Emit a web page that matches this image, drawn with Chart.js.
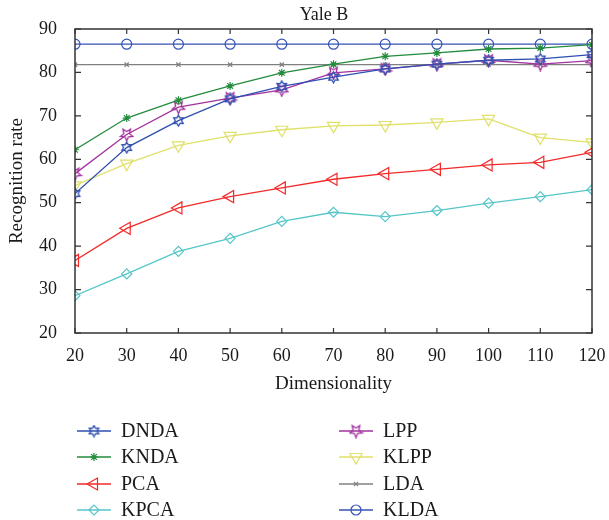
<!DOCTYPE html>
<html>
<head>
<meta charset="utf-8">
<script src="https://cdn.jsdelivr.net/npm/chart.js@4.4.1/dist/chart.umd.min.js"></script>
<style>
  html, body { margin: 0; padding: 0; background: #fff; }
  #wrap { width: 609px; height: 520px; }
</style>
</head>
<body>
<div id="wrap"><canvas id="myChart" width="609" height="520"></canvas></div>
<script>
// data
const dims = [20, 30, 40, 50, 60, 70, 80, 90, 100, 110, 120];
const yTicks = [20, 30, 40, 50, 60, 70, 80, 90];

const dnda = [52.1, 62.7, 68.9, 73.9, 76.8, 78.9, 80.8, 81.9, 82.8, 83.1, 84.1];
const knda = [62.2, 69.5, 73.6, 76.9, 79.9, 81.9, 83.7, 84.5, 85.4, 85.6, 86.4];
const pca  = [36.7, 44.1, 48.8, 51.4, 53.4, 55.4, 56.7, 57.7, 58.7, 59.3, 61.6];
const kpca = [28.6, 33.6, 38.8, 41.8, 45.7, 47.8, 46.8, 48.2, 49.9, 51.4, 53.0];
const lpp  = [56.7, 65.7, 72.0, 74.1, 76.0, 79.9, 80.8, 81.9, 82.8, 81.9, 82.7];
const klpp = [54.0, 59.0, 63.2, 65.4, 66.8, 67.7, 67.9, 68.5, 69.3, 65.0, 63.9];
const lda  = [81.8, 81.8, 81.8, 81.8, 81.8, 81.8, 81.8, 81.8, 81.8, 81.8, 81.8];
const klda = [86.5, 86.5, 86.5, 86.5, 86.5, 86.5, 86.5, 86.5, 86.5, 86.5, 86.5];

const FONT = "'Liberation Serif', 'DejaVu Serif', serif";

// hollow star markers drawn on small canvases
function starMarker(n, color, size, flip) {
  const c = document.createElement('canvas');
  c.width = size; c.height = size;
  const g = c.getContext('2d');
  g.strokeStyle = color;
  g.lineWidth = 1.3;
  const cx = size / 2, cy = size / 2, R = size / 2 - 1, r = R * (n === 6 ? 0.58 : 0.45);
  g.beginPath();
  for (let i = 0; i < n * 2; i++) {
    const a = -Math.PI / 2 + (flip ? Math.PI : 0) + i * Math.PI / n;
    const rr = i % 2 === 0 ? R : r;
    const px = cx + rr * Math.cos(a), py = cy + rr * Math.sin(a);
    if (i === 0) g.moveTo(px, py); else g.lineTo(px, py);
  }
  g.closePath();
  g.stroke();
  return c;
}

function pts(arr) { return dims.map((d, i) => ({ x: d, y: arr[i] })); }

const series = [
  { label: 'DNDA', data: dnda, color: '#2f4fb0', style: starMarker(6, '#2f4fb0', 13, false), r: 6, rot: 0 },
  { label: 'KNDA', data: knda, color: '#228b3c', style: 'star', r: 4, rot: 0 },
  { label: 'PCA',  data: pca,  color: '#f22a2a', style: 'triangle', r: 7, rot: -90 },
  { label: 'KPCA', data: kpca, color: '#55c6c8', style: 'rectRot', r: 5, rot: 0 },
  { label: 'LPP',  data: lpp,  color: '#a2329e', style: starMarker(5, '#a2329e', 15, true), r: 7, rot: 0 },
  { label: 'KLPP', data: klpp, color: '#e0e06a', style: 'triangle', r: 7, rot: 180 },
  { label: 'LDA',  data: lda,  color: '#808080', style: 'crossRot', r: 3, rot: 0 },
  { label: 'KLDA', data: klda, color: '#3553b4', style: 'circle', r: 5, rot: 0 }
];

const datasets = series.map(s => ({
  label: s.label,
  data: pts(s.data),
  borderColor: s.color,
  backgroundColor: 'rgba(0,0,0,0)',
  borderWidth: 1.3,
  pointStyle: s.style,
  pointRadius: s.r,
  pointRotation: s.rot,
  pointBorderColor: s.color,
  pointBorderWidth: 1.2,
  pointBackgroundColor: 'rgba(0,0,0,0)',
  fill: false,
  tension: 0
}));

// frame with inward ticks on all four sides, plus the title
const frame = {
  id: 'frame',
  afterDraw(chart) {
    const g = chart.ctx, a = chart.chartArea;
    const xs = chart.scales.x, ys = chart.scales.y;
    g.save();
    g.strokeStyle = '#333';
    g.lineWidth = 1.5;
    g.strokeRect(a.left, a.top, a.right - a.left, a.bottom - a.top);
    g.lineWidth = 1.2;
    g.beginPath();
    dims.forEach(d => {
      const px = xs.getPixelForValue(d);
      g.moveTo(px, a.bottom); g.lineTo(px, a.bottom - 5);
      g.moveTo(px, a.top); g.lineTo(px, a.top + 5);
    });
    yTicks.forEach(v => {
      const py = ys.getPixelForValue(v);
      g.moveTo(a.left, py); g.lineTo(a.left + 6, py);
      g.moveTo(a.right, py); g.lineTo(a.right - 6, py);
    });
    g.stroke();
    g.fillStyle = '#1a1a1a';
    g.font = '18px ' + FONT;
    g.textAlign = 'center';
    g.textBaseline = 'middle';
    g.fillText('Yale B', 324, 15);
    g.restore();
  }
};

// two-column legend under the axes
const legendBox = {
  id: 'legendBox',
  afterDraw(chart) {
    const g = chart.ctx;
    const cols = [77, 339];
    const rows = [431, 457, 484, 510];
    g.save();
    chart.data.datasets.forEach((ds, i) => {
      const x0 = cols[Math.floor(i / 4)], y = rows[i % 4];
      g.strokeStyle = ds.borderColor;
      g.lineWidth = 1.3;
      g.beginPath();
      g.moveTo(x0, y); g.lineTo(x0 + 34, y);
      g.stroke();
      g.lineWidth = ds.pointBorderWidth;
      g.fillStyle = 'rgba(0,0,0,0)';
      Chart.helpers.drawPoint(g, {
        pointStyle: ds.pointStyle,
        rotation: ds.pointRotation,
        radius: ds.pointRadius,
        borderWidth: ds.pointBorderWidth
      }, x0 + 17, y);
      g.fillStyle = '#1a1a1a';
      g.font = '20px ' + FONT;
      g.textAlign = 'left';
      g.textBaseline = 'middle';
      g.fillText(ds.label, x0 + 44, y + 1);
    });
    g.restore();
  }
};

new Chart('myChart', {
  type: 'line',
  data: { datasets: datasets },
  plugins: [frame, legendBox],
  options: {
    responsive: false,
    animation: false,
    layout: { padding: { left: 0, right: 17, top: 29, bottom: 125 } },
    plugins: {
      legend: { display: false },
      tooltip: { enabled: false },
      title: { display: false }
    },
    scales: {
      x: {
        type: 'linear',
        min: 20,
        max: 120,
        afterFit(scale) {
          scale.height = 62;
          scale.paddingRight = 0;
        },
        grid: { display: false, drawTicks: false },
        border: { display: false },
        ticks: {
          stepSize: 10,
          padding: 12,
          color: '#1a1a1a',
          font: { family: FONT, size: 18 }
        },
        title: {
          display: true,
          text: 'Dimensionality',
          color: '#1a1a1a',
          font: { family: FONT, size: 19 },
          padding: { top: 4, bottom: 0 }
        }
      },
      y: {
        min: 20,
        max: 90,
        afterFit(scale) { scale.width = 75; },
        grid: { display: false, drawTicks: false },
        border: { display: false },
        ticks: {
          stepSize: 10,
          padding: 18,
          color: '#1a1a1a',
          font: { family: FONT, size: 18 }
        },
        title: {
          display: true,
          text: 'Recognition rate',
          color: '#1a1a1a',
          font: { family: FONT, size: 19 },
          padding: { top: 6, bottom: 0 }
        }
      }
    }
  }
});
</script>
</body>
</html>
